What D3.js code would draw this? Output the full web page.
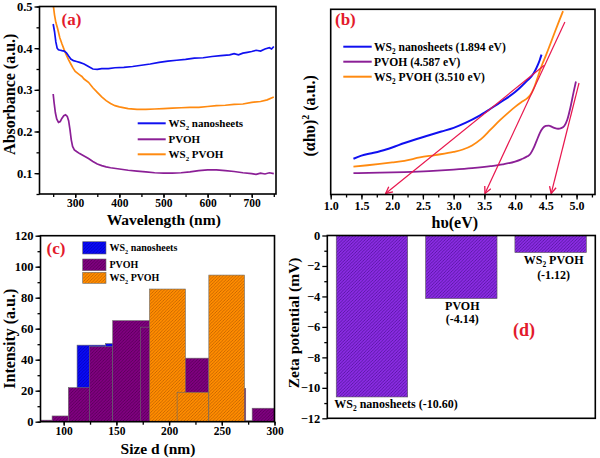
<!DOCTYPE html>
<html><head><meta charset="utf-8">
<script src="https://cdn.jsdelivr.net/npm/d3@7"></script>
<style>
body{margin:0;background:#fff;}
svg{display:block;}
text{font-family:"Liberation Serif","Times New Roman",serif;font-weight:bold;}
</style></head><body>
<svg id="c" width="600" height="458"></svg>
<script>
// ---------- DATA ----------
// (a) UV-vis absorbance
const absWavelength = [250,253,256,259,262,266,270,275,280,285,290,296,303,310,320,330,340,350,360,375,390,410,430,450,470,490,510,530,550,570,590,610,630,650,660,670,680,690,700,710,720,730,740,745,750];
const absWS2 = [0.458,0.440,0.415,0.400,0.396,0.395,0.394,0.393,0.389,0.381,0.374,0.370,0.368,0.366,0.362,0.356,0.350,0.349,0.351,0.351,0.353,0.354,0.356,0.359,0.362,0.366,0.369,0.371,0.373,0.376,0.377,0.380,0.382,0.384,0.387,0.384,0.388,0.390,0.392,0.395,0.393,0.398,0.401,0.398,0.404];
const absWavelength2 = [250,253,256,260,265,270,275,280,285,290,295,300,305,310,315,320,330,340,350,360,370,380,390,400,420,440,460,480,500,520,540,560,580,600,620,640,660,680,700,720,735,750];
const absWS2PVOH = [0.505,0.480,0.462,0.447,0.425,0.410,0.396,0.383,0.372,0.362,0.352,0.344,0.340,0.336,0.332,0.326,0.318,0.305,0.294,0.283,0.274,0.267,0.262,0.259,0.255,0.253,0.253,0.254,0.255,0.256,0.257,0.258,0.258,0.260,0.262,0.263,0.265,0.266,0.270,0.272,0.276,0.283];
const absWavelength3 = [250,252,255,258,262,266,270,274,278,282,285,288,291,294,298,303,310,320,330,340,350,360,370,380,400,420,440,460,480,500,520,540,560,580,600,620,640,660,680,700,710,720,730,740,750];
const absPVOH = [0.290,0.270,0.245,0.230,0.222,0.224,0.232,0.238,0.240,0.236,0.226,0.205,0.180,0.164,0.156,0.152,0.147,0.141,0.135,0.128,0.122,0.118,0.115,0.113,0.110,0.107,0.105,0.103,0.101,0.100,0.100,0.101,0.103,0.106,0.108,0.108,0.106,0.104,0.101,0.099,0.097,0.100,0.098,0.101,0.099];
const seriesNamesA = ["WS2 nanosheets","PVOH","WS2 PVOH"];
const xTicksA = [300,400,500,600,700];
const yTicksA = [0.1,0.2,0.3,0.4,0.5];

// (b) Tauc plot
const tEnergyWS2 = [1.37,1.5,1.7,1.9,2.0,2.2,2.4,2.6,2.8,3.0,3.2,3.4,3.6,3.8,4.0,4.1,4.2,4.3,4.35,4.4,4.43];
const tWS2 = [19.3,21.0,22.5,24.3,25.4,27.8,30.0,32.0,34.0,36.0,38.8,42.2,46.3,50.6,55.3,58.3,61.6,65.3,68.5,72.5,75.5];
const tEnergyPVOH = [1.37,1.8,2.2,2.6,3.0,3.3,3.6,3.8,4.0,4.1,4.2,4.25,4.3,4.35,4.4,4.45,4.5,4.55,4.6,4.65,4.7,4.75,4.8,4.85,4.9,4.95,4.99];
const tPVOH = [11.5,11.8,12.1,12.6,13.4,14.2,15.3,16.3,17.8,19.0,20.6,22.0,25.0,29.0,33.0,35.8,37.0,37.2,36.5,35.8,35.5,35.8,37.0,40.5,47.0,55.0,61.0];
const tEnergyMix = [1.37,1.6,1.8,2.0,2.2,2.45,2.7,3.0,3.15,3.3,3.45,3.6,3.75,3.9,4.0,4.1,4.2,4.25,4.3,4.35,4.4,4.45,4.5,4.57,4.65,4.72,4.78];
const tMix = [15.1,15.8,16.5,17.3,18.2,20.0,21.3,23.0,24.3,26.5,30.0,35.0,40.0,44.5,47.3,49.8,52.0,53.8,57.0,61.5,66.5,71.0,75.0,81.0,88.0,94.0,99.0];
const bandGaps = [1.894, 4.587, 3.510];
const tangentTopEnergy = [4.47, 5.04, 4.81];
const tangentTopValue = [69.7, 60.2, 93.2];
const legendB = ["WS2 nanosheets (1.894 eV)","PVOH (4.587 eV)","WS2 PVOH (3.510 eV)"];
const xTicksB = [1.0,1.5,2.0,2.5,3.0,3.5,4.0,4.5,5.0];

// (c) size distribution: [start nm, end nm, intensity]
const histWS2 = [[112.7,139.6,49.4],[139.6,165,50.4]];
const histPVOH = [[78.4,89,1.0],[89,104.4,3.7],[104.4,124.3,22],[124.3,146.5,48.4],[146.5,181.4,65.2],[173,207.6,61],[207.6,237.7,41],[237.7,272.7,21.5],[272.7,278.8,0.6],[278.8,300,8.7]];
const histMix = [[181.4,215.5,85.6],[207.6,237.7,19],[237.7,271.5,94.6]];
const xTicksC = [100,150,200,250,300];
const yTicksC = [0,20,40,60,80,100,120];

// (d) zeta potential
const zetaNames = ["WS2 nanosheets","PVOH","WS2 PVOH"];
const zetaValues = [-10.60, -4.14, -1.12];
const yTicksD = [0,-2,-4,-6,-8,-10,-12];

// ---------- DRAW ----------
const svg = d3.select("#c");
const defs = svg.append("defs");
function hatch(id, bg, line){
  const p = defs.append("pattern").attr("id",id).attr("patternUnits","userSpaceOnUse")
    .attr("width",3.2).attr("height",3.2);
  p.append("rect").attr("width",3.2).attr("height",3.2).attr("fill",bg);
  p.append("path").attr("d","M-0.8,0.8 L0.8,-0.8 M0,3.2 L3.2,0 M2.4,4 L4,2.4")
    .attr("stroke",line).attr("stroke-width",0.7);
}
hatch("hBlue","#0a0af5","#0000b0");
hatch("hPurple","#800080","#4d004d");
hatch("hOrange","#ff8c00","#b55a00");
hatch("hViolet","#8a2be2","#4a1290");
defs.append("marker").attr("id","arr").attr("viewBox","0 0 10 10").attr("refX",9).attr("refY",5)
  .attr("markerWidth",7).attr("markerHeight",7).attr("orient","auto")
  .append("path").attr("d","M1,1 L9,5 L1,9").attr("fill","none").attr("stroke","#e8174e").attr("stroke-width",1.6);

const BLUE="#1010f0", PURPLE="#8b1f96", ORANGE="#ff8a10", RED="#e31a2c";
const TICKFS = 12;

function styleAxis(g, fs){
  g.selectAll("path.domain").remove();
  g.selectAll("line").attr("stroke","#000").attr("stroke-width",1.3);
  g.selectAll("text").attr("font-size",fs).attr("fill","#000")
    .style("font-family",'"Liberation Serif","Times New Roman",serif').style("font-weight","bold");
}
function frame(x0,y0,x1,y1){
  svg.append("rect").attr("x",x0).attr("y",y0).attr("width",x1-x0).attr("height",y1-y0)
    .attr("fill","none").attr("stroke","#000").attr("stroke-width",1.6);
}
function subText(g, x, y, str, fs, anchor){
  const t = g.append("text").attr("x",x).attr("y",y).attr("font-size",fs).attr("text-anchor",anchor||"start");
  const i = str.indexOf("WS2");
  if(i>=0){
    if(i>0) t.append("tspan").text(str.slice(0,i));
    t.append("tspan").text("WS");
    t.append("tspan").attr("dy",fs*0.25).attr("font-size",fs*0.62).text("2");
    t.append("tspan").attr("dy",-fs*0.25).text(str.slice(i+3));
  } else t.text(str);
  return t;
}

// ===== Panel (a) =====
{
  const L=39.5,R=276,T=6.5,B=194;
  const x=d3.scaleLinear().domain([219,755]).range([L,R]);
  const y=d3.scaleLinear().domain([0.05,0.5]).range([B,T]);
  defs.append("clipPath").attr("id","clipA").append("rect").attr("x",L).attr("y",T).attr("width",R-L).attr("height",B-T);
  const line=d3.line().x(d=>x(d[0])).y(d=>y(d[1]));
  const g=svg.append("g").attr("clip-path","url(#clipA)");
  g.append("path").attr("d",line(d3.zip(absWavelength2,absWS2PVOH))).attr("fill","none").attr("stroke",ORANGE).attr("stroke-width",1.7);
  g.append("path").attr("d",line(d3.zip(absWavelength3,absPVOH))).attr("fill","none").attr("stroke",PURPLE).attr("stroke-width",1.7);
  g.append("path").attr("d",line(d3.zip(absWavelength,absWS2))).attr("fill","none").attr("stroke",BLUE).attr("stroke-width",1.7);
  styleAxis(svg.append("g").attr("transform",`translate(0,${B})`).call(d3.axisBottom(x).tickValues(d3.range(250,751,50)).tickSize(3).tickFormat("")),12);
  styleAxis(svg.append("g").attr("transform",`translate(0,${B})`).call(d3.axisBottom(x).tickValues(xTicksA).tickSize(4).tickPadding(1).tickFormat(d3.format("d"))),11.5);
  styleAxis(svg.append("g").attr("transform",`translate(${L},0)`).call(d3.axisLeft(y).tickValues(d3.range(0.05,0.51,0.05)).tickSize(3).tickFormat("")),12);
  styleAxis(svg.append("g").attr("transform",`translate(${L},0)`).call(d3.axisLeft(y).tickValues(yTicksA).tickSize(5).tickPadding(2).tickFormat(d3.format(".1f"))),12.5);
  frame(L,T,R,B);
  const cols=[BLUE,PURPLE,ORANGE];
  [123.3,139.3,154.3].forEach((yy,i)=>{
    svg.append("line").attr("x1",137.7).attr("x2",165.7).attr("y1",yy).attr("y2",yy).attr("stroke",cols[i]).attr("stroke-width",2);
    subText(svg,168.5,yy+4,seriesNamesA[i],11);
  });
  svg.append("text").attr("x",61.5).attr("y",24.5).attr("font-size",17).attr("fill",RED).text("(a)");
  svg.append("text").attr("x",(L+R)/2+6).attr("y",225).attr("text-anchor","middle").attr("font-size",15.5).text("Wavelength (nm)");
  svg.append("text").attr("transform",`translate(15,${(T+B)/2-6}) rotate(-90)`).attr("text-anchor","middle").attr("font-size",16).text("Absorbance (a.u.)");
}

// ===== Panel (b) =====
{
  const L=330.7,R=595,T=9.3,B=194.5;
  const x=d3.scaleLinear().domain([1.0,5.3]).range([L,R]);
  const y=d3.scaleLinear().domain([0,100]).range([B,T]);
  const line=d3.line().curve(d3.curveMonotoneX).x(d=>x(d[0])).y(d=>y(d[1]));
  svg.append("path").attr("d",line(d3.zip(tEnergyMix,tMix))).attr("fill","none").attr("stroke",ORANGE).attr("stroke-width",1.8);
  svg.append("path").attr("d",line(d3.zip(tEnergyPVOH,tPVOH))).attr("fill","none").attr("stroke",PURPLE).attr("stroke-width",1.8);
  svg.append("path").attr("d",line(d3.zip(tEnergyWS2,tWS2))).attr("fill","none").attr("stroke",BLUE).attr("stroke-width",2);
  bandGaps.forEach((bg,i)=>{
    svg.append("line").attr("x1",x(tangentTopEnergy[i])).attr("y1",y(tangentTopValue[i]))
      .attr("x2",x(bg)).attr("y2",y(0)-1).attr("stroke","#e8174e").attr("stroke-width",1.2).attr("marker-end","url(#arr)");
  });
  styleAxis(svg.append("g").attr("transform",`translate(0,${B})`).call(d3.axisBottom(x).tickValues(d3.range(1.0,5.26,0.25)).tickSize(3).tickFormat("")),12);
  styleAxis(svg.append("g").attr("transform",`translate(0,${B})`).call(d3.axisBottom(x).tickValues(xTicksB).tickSize(5).tickPadding(2).tickFormat(d3.format(".1f"))),TICKFS);
  frame(L,T,R,B);
  const cols=[BLUE,PURPLE,ORANGE];
  [46.7,61.7,76.7].forEach((yy,i)=>{
    svg.append("line").attr("x1",343.3).attr("x2",371.7).attr("y1",yy).attr("y2",yy).attr("stroke",cols[i]).attr("stroke-width",2);
    subText(svg,374,yy+4,legendB[i],11.6);
  });
  svg.append("text").attr("x",335).attr("y",25).attr("font-size",17).attr("fill",RED).text("(b)");
  svg.append("text").attr("x",(L+R)/2-8).attr("y",228).attr("text-anchor","middle").attr("font-size",16).text("hυ(eV)");
  const t=svg.append("text").attr("transform",`translate(315,${(T+B)/2+14}) rotate(-90)`).attr("text-anchor","middle").attr("font-size",16);
  t.append("tspan").text("(αhυ)");
  t.append("tspan").attr("dy",-6).attr("font-size",10).text("2");
  t.append("tspan").attr("dy",6).text(" (a.u.)");
}

// ===== Panel (c) =====
{
  const L=40.5,R=274.5,T=235.7,B=421.7;
  const x=d3.scaleLinear().domain([78,300]).range([L,R]);
  const y=d3.scaleLinear().domain([0,120]).range([B,T]);
  const draw=(data,fill)=>{
    svg.append("g").selectAll("rect").data(data).join("rect")
      .attr("x",d=>x(d[0])).attr("width",d=>x(d[1])-x(d[0]))
      .attr("y",d=>y(d[2])).attr("height",d=>y(0)-y(d[2]))
      .attr("fill",fill).attr("stroke","#6a6a6a").attr("stroke-width",0.6);
  };
  draw(histWS2,"url(#hBlue)");
  draw(histPVOH,"url(#hPurple)");
  draw(histMix,"url(#hOrange)");
  styleAxis(svg.append("g").attr("transform",`translate(0,${B})`).call(d3.axisBottom(x).tickValues(d3.range(100,301,25)).tickSize(3).tickFormat("")),12);
  styleAxis(svg.append("g").attr("transform",`translate(0,${B})`).call(d3.axisBottom(x).tickValues(xTicksC).tickSize(4).tickPadding(1).tickFormat(d3.format("d"))),11.5);
  styleAxis(svg.append("g").attr("transform",`translate(${L},0)`).call(d3.axisLeft(y).tickValues(d3.range(0,121,10)).tickSize(3).tickFormat("")),12);
  styleAxis(svg.append("g").attr("transform",`translate(${L},0)`).call(d3.axisLeft(y).tickValues(yTicksC).tickSize(5).tickPadding(2).tickFormat(d3.format("d"))),12.5);
  frame(L,T,R,B);
  const fills=["url(#hBlue)","url(#hPurple)","url(#hOrange)"];
  [[241.7,254],[259,270.7],[272.3,283.3]].forEach((r,i)=>{
    svg.append("rect").attr("x",82.7).attr("y",r[0]).attr("width",23.3).attr("height",r[1]-r[0]).attr("fill",fills[i]).attr("stroke","#6a6a6a").attr("stroke-width",0.6);
    subText(svg,109.5,(r[0]+r[1])/2+3.6,seriesNamesA[i],10);
  });
  svg.append("text").attr("x",46.5).attr("y",254).attr("font-size",17).attr("fill",RED).text("(c)");
  svg.append("text").attr("x",158).attr("y",453.5).attr("text-anchor","middle").attr("font-size",15.5).text("Size d (nm)");
  svg.append("text").attr("transform",`translate(15,${(T+B)/2+10}) rotate(-90)`).attr("text-anchor","middle").attr("font-size",16).text("Intensity (a.u.)");
}

// ===== Panel (d) =====
{
  const L=327.3,R=595.3,T=235.5,B=418.3;
  const x=d3.scaleBand().domain(zetaNames).range([L,R]).paddingInner(0.2).paddingOuter(0.1);
  const y=d3.scaleLinear().domain([-12,0]).range([B,T]);
  svg.append("g").selectAll("rect").data(zetaValues).join("rect")
    .attr("x",(d,i)=>x(zetaNames[i])).attr("width",x.bandwidth())
    .attr("y",y(0)).attr("height",d=>y(d)-y(0))
    .attr("fill","url(#hViolet)").attr("stroke","#5a5a5a").attr("stroke-width",0.6);
  styleAxis(svg.append("g").attr("transform",`translate(${L},0)`).call(d3.axisLeft(y).tickValues(d3.range(-11,0,2)).tickSize(3).tickFormat("")),12);
  styleAxis(svg.append("g").attr("transform",`translate(${L},0)`).call(d3.axisLeft(y).tickValues(yTicksD).tickSize(5).tickPadding(2).tickFormat(d3.format("d"))),12.5);
  frame(L,T,R,B);
  const cx=i=>x(zetaNames[i])+x.bandwidth()/2;
  subText(svg,x(zetaNames[0])-2,408,zetaNames[0]+" ("+zetaValues[0].toFixed(2)+")",12,"start");
  svg.append("text").attr("x",cx(1)+1).attr("y",310).attr("text-anchor","middle").attr("font-size",12).text(zetaNames[1]);
  svg.append("text").attr("x",cx(1)+1).attr("y",323).attr("text-anchor","middle").attr("font-size",12).text("("+zetaValues[1].toFixed(2)+")");
  subText(svg,cx(2)+3,264,zetaNames[2],12,"middle");
  svg.append("text").attr("x",cx(2)+3).attr("y",279).attr("text-anchor","middle").attr("font-size",12).text("("+zetaValues[2].toFixed(2)+")");
  svg.append("text").attr("x",524).attr("y",336).attr("text-anchor","middle").attr("font-size",18).attr("fill",RED).text("(d)");
  svg.append("text").attr("transform",`translate(299,${(T+B)/2-4}) rotate(-90)`).attr("text-anchor","middle").attr("font-size",15.5).text("Zeta potential (mV)");
}
</script>
</body></html>
